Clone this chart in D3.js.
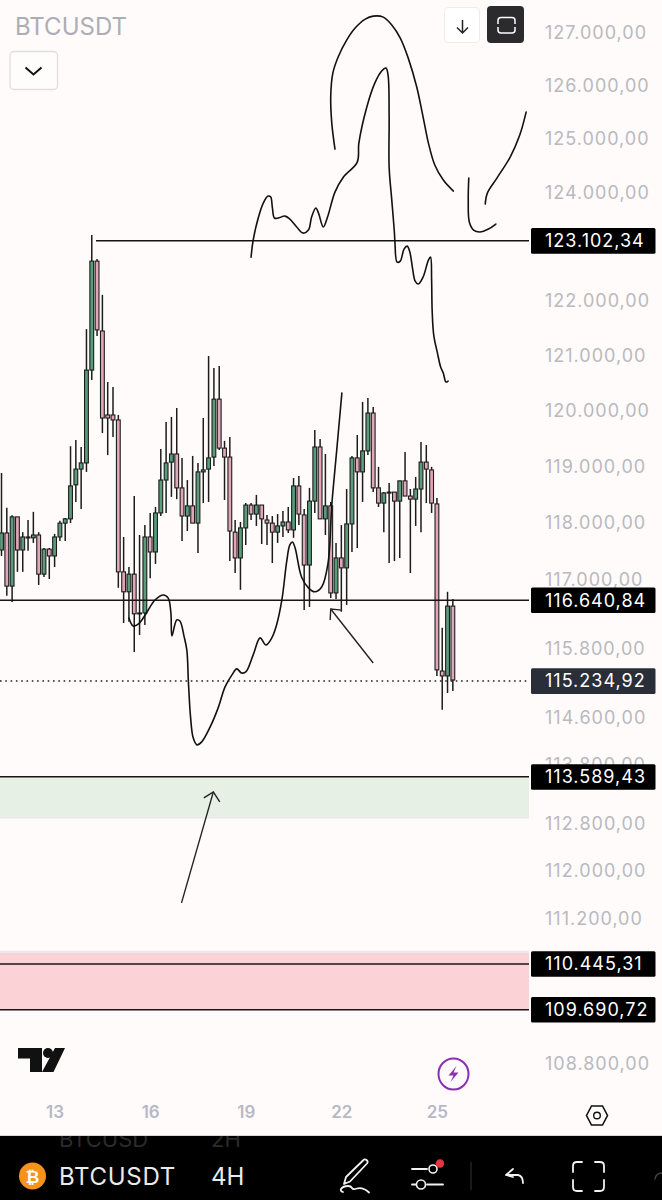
<!DOCTYPE html>
<html><head><meta charset="utf-8">
<style>html,body{margin:0;padding:0;background:#fffbfa}svg{display:block}
text{font-family:Inter,"Open Sans",sans-serif}</style>
<script src="https://cdn.jsdelivr.net/npm/d3@7/dist/d3.min.js"></script></head><body><svg id="c" width="662" height="1200"></svg>
<script>
const opens=[117505,117805,116870,118090,117505,117735,117720,117770,117080,117520,117400,117735,117980,118055,118660,118940,119050,120720,122710,121430,119910,119910,119820,117120,116770,117080,116385,116400,117735,117470,118160,118745,119065,119210,118605,118105,118285,117980,118890,118940,119155,120195,119315,119155,117820,117365,117895,118300,118140,118300,118035,117980,117820,117930,118000,117860,118640,118125,117240,118370,119335,118055,118285,116750,117365,117190,117965,119140,118890,119265,119945,118605,118335,118530,118530,118370,118730,118460,118405,118585,119065,118925,118320,115390,115305,116520];
const closes=[117805,116870,118090,117505,117735,117720,117770,117080,117520,117400,117735,117980,118055,118640,118940,119050,120720,122710,121450,119855,119855,119820,117120,116770,117080,116385,116400,117735,117470,118160,118745,119050,119210,118605,118105,118285,117980,118890,118925,119140,120195,119315,119155,117840,117365,117895,118300,118140,118300,118055,117980,117820,117930,118000,117860,118640,118140,117240,118370,119335,118055,118285,116750,117365,117190,117965,119140,118890,119265,119945,118605,118335,118515,118515,118370,118730,118460,118405,118585,119065,118940,118335,115410,115305,116520,115235];
const highs=[118870,118250,118120,118090,117820,118035,118180,117820,117540,117540,117790,118020,118070,119350,119460,119335,121465,123190,122750,122090,120505,120415,119910,117735,117205,118460,117770,117945,118160,118265,119300,119785,119875,120035,119140,118745,119175,119050,119855,120975,120760,120795,119445,119515,118035,118000,118335,118335,118480,118300,118125,118105,118140,118195,118265,118780,118815,118230,118605,119640,119480,119210,118355,117630,117945,118585,119175,119550,120145,120215,120055,118980,118530,118690,118530,118730,119245,118585,118800,119425,119370,118980,118425,116140,116770,116645];
const lows=[117400,116700,116590,117120,117120,117490,117630,116890,117030,116995,117205,117665,117665,117980,118355,118230,118890,120540,121340,119585,119190,119515,116840,116225,116245,115720,116015,116190,117010,117260,118105,118160,118445,118405,117665,117840,117980,117450,118335,118355,118995,119280,118390,117310,117100,116805,117595,118035,117930,117610,117595,117275,117630,117735,117805,117720,117945,116450,116505,118160,118055,117770,116660,116645,116420,116540,117470,117540,118355,119190,118530,118265,117820,117275,117310,117365,118460,117100,117930,117820,118335,118160,115305,114720,115010,115045];

const priceTicks=[127000,126000,125000,124000,122000,121000,120000,119000,118000,117000,115800,114600,113800,112800,112000,111200,108800];
const dayBars=[10,28,46,64,82];
const dayLabels=["13","16","19","22","25"];
const levels=[116640.84,113589.43,110445.31,109690.72];
const resistance=123102.34, resistanceStartBar=17.8, lastPrice=115234.92;
const greenZone=[113589.43,112909], redZone=[110630,109690.72];

const sketchDrop=[[47.0,122784],[47.4,123098],[48.4,123524],[49.3,123783],[50.2,123913],[50.7,123895],[51.0,123710],[51.4,123506],[52.1,123506],[53.4,123542],[54.3,123487],[55.6,123340],[56.8,123228],[57.8,123283],[58.4,123524],[59.2,123691],[59.7,123598],[60.6,123340],[61.4,123524],[62.8,123988],[64.4,124268],[67.0,124547],[67.3,124903],[68.8,125580],[70.3,126031],[71.6,126260],[72.4,126316],[72.8,126184],[73.0,125391],[73.0,124455],[73.5,123839],[74.0,123228],[74.1,123043],[74.5,122693],[75.1,122711],[75.8,122932],[76.4,122987],[76.9,122877],[77.4,122583],[77.9,122344],[78.5,122289],[79.4,122418],[80.4,122729],[80.8,122784],[81.0,122362],[81.1,121813],[81.4,121357],[82.1,121029],[82.7,120776],[83.2,120667],[83.7,120505],[84.1,120522]];
const sketchArch=[[62.8,124790],[62.2,125278],[62.0,125768],[62.4,126221],[63.4,126526],[65.0,126847],[66.6,127077],[68.5,127248],[70.0,127305],[71.9,127286],[73.5,127134],[75.1,126886],[76.6,126505],[78.2,125957],[79.4,125391],[80.4,124903],[81.6,124492],[83.2,124212],[85.1,124007]];
const sketchHook=[[88.0,124249],[87.9,123839],[88.1,123432],[88.9,123283],[90.1,123247],[91.7,123302],[93.1,123395]];
const sketchRise=[[91.1,123765],[91.5,123969],[93.3,124249],[95.8,124641],[97.6,125053],[98.8,125485]];
const sketchLow=[[24.0,116313],[24.8,116173],[25.8,116209],[27.3,116400],[28.9,116627],[30.5,116715],[31.4,116660],[31.9,116400],[32.1,115999],[33.0,116278],[33.6,116260],[34.4,115982],[34.9,115756],[35.2,115202],[35.6,114599],[36.1,114239],[36.8,114119],[37.7,114170],[39.3,114427],[40.8,114754],[42.1,115115],[43.4,115323],[44.3,115427],[45.2,115357],[46.0,115375],[47.4,115670],[48.7,115965],[49.8,115843],[50.9,115965],[51.8,116190],[52.8,116627],[53.7,117294],[54.3,117595],[54.8,117647],[55.3,117540],[56.5,117030],[57.8,116840],[59.0,116770],[60.3,116855],[61.5,117275],[62.2,118300],[63.1,119245],[64.1,120305]];
const arrowTop=[[70.0,115530],[62.0,116470]];
const arrowTopHead=[[61.9,116278],[62.0,116470],[64.1,116450]];
const arrowBottom=[[33.9,111445],[39.9,113317]];
const arrowBottomHead=[[38.1,113215],[39.9,113317],[41.1,113147]];
// candle and sketch prices were read about one pixel (17 units) low
const readingBias=17;
const adj=v=>v+readingBias;

const W=662,H=1200,PLOT_R=529;
const x=d3.scaleLinear().domain([0,100]).range([1.5,532.5]);
const y=d3.scaleLog().domain([127000,108800]).range([33,1064]);
const loc=d3.formatLocale({decimal:",",thousands:".",grouping:[3],currency:["",""]});
const fmt=loc.format(",.2f");
const svg=d3.select("#c");
svg.append("rect").attr("width",W).attr("height",H).attr("fill","#fffbfa");

// zones
svg.append("rect").attr("x",0).attr("width",PLOT_R).attr("y",y(greenZone[0])).attr("height",y(greenZone[1])-y(greenZone[0])).attr("fill","#e6f0e5");
svg.append("rect").attr("x",0).attr("width",PLOT_R).attr("y",y(greenZone[1])).attr("height",1.5).attr("fill","#e8e8e8");
svg.append("rect").attr("x",0).attr("width",PLOT_R).attr("y",y(redZone[0])).attr("height",y(redZone[1])-y(redZone[0])).attr("fill","#fbd2d5");
svg.append("rect").attr("x",0).attr("width",PLOT_R).attr("y",y(redZone[0])-2).attr("height",2).attr("fill","#e8e8e8");

// price axis
const LABEL_STYLE={size:"18px",ls:"1px"};
const axisR=d3.axisRight(y).tickValues(priceTicks).tickSize(0).tickPadding(0).tickFormat(fmt);
const gy=svg.append("g").attr("transform","translate(545,0)").call(axisR);
gy.select(".domain").remove();
gy.selectAll("text").attr("fill","#b9b9c0").style("font-size",LABEL_STYLE.size).style("letter-spacing",LABEL_STYLE.ls).style("font-family","Inter,sans-serif");

// time axis
const axisB=d3.axisBottom(x).tickValues(dayBars).tickSize(0).tickFormat((d,i)=>dayLabels[i]);
const gx=svg.append("g").attr("transform","translate(0,1103)").call(axisB);
gx.select(".domain").remove();
gx.selectAll("text").attr("fill","#b7b8c6").style("font-size","17px").style("font-weight","600").style("font-family","Inter,sans-serif");

// candles
const bars=d3.range(opens.length).map(i=>({i,o:adj(opens[i]),c:adj(closes[i]),h:adj(highs[i]),l:adj(lows[i])}));
const g=svg.append("g");
g.selectAll("line").data(bars).join("line")
 .attr("x1",d=>x(d.i)).attr("x2",d=>x(d.i)).attr("y1",d=>y(d.h)).attr("y2",d=>y(d.l))
 .attr("stroke","#1c1c1c").attr("stroke-width",1.5);
g.selectAll("rect").data(bars).join("rect")
 .attr("x",d=>x(d.i)-1.9).attr("width",3.8)
 .attr("y",d=>y(Math.max(d.o,d.c))).attr("height",d=>Math.max(1,Math.abs(y(d.o)-y(d.c))))
 .attr("fill",d=>d.c>=d.o?"#5b9c7b":"#e2a6ba").attr("stroke","#1c1c1c").attr("stroke-width",1.1);

// level lines
svg.append("line").attr("x1",x(resistanceStartBar)).attr("x2",PLOT_R).attr("y1",y(resistance)).attr("y2",y(resistance)).attr("stroke","#141414").attr("stroke-width",1.5);
levels.forEach(v=>svg.append("line").attr("x1",0).attr("x2",PLOT_R).attr("y1",y(v)).attr("y2",y(v)).attr("stroke","#1a1414").attr("stroke-width",1.5));
svg.append("line").attr("x1",0).attr("x2",PLOT_R).attr("y1",y(lastPrice)).attr("y2",y(lastPrice)).attr("stroke","#222").attr("stroke-width",1.4).attr("stroke-dasharray","1.6 3.7");

// tags
[resistance,...levels,lastPrice].forEach(v=>{
  svg.append("rect").attr("x",531).attr("width",124.5).attr("y",y(v)-12.7).attr("height",25.6).attr("rx",1.5).attr("fill",v===lastPrice?"#2a2e39":"#000");
  svg.append("text").attr("x",545).attr("y",y(v)+6.4).attr("fill","#fff").style("font-size",LABEL_STYLE.size).style("letter-spacing",LABEL_STYLE.ls).text(fmt(v));
});

// hand sketches
const line=d3.line().x(d=>x(d[0])).y(d=>y(adj(d[1]))).curve(d3.curveCatmullRom.alpha(0.5));
const straight=d3.line().x(d=>x(d[0])).y(d=>y(adj(d[1])));
[sketchDrop,sketchArch,sketchHook,sketchRise,sketchLow].forEach(s=>svg.append("path").attr("d",line(s)).attr("fill","none").attr("stroke","#111").attr("stroke-width",1.6).attr("stroke-linecap","round"));
[arrowTop,arrowTopHead,arrowBottom,arrowBottomHead].forEach(s=>svg.append("path").attr("d",straight(s)).attr("fill","none").attr("stroke","#222").attr("stroke-width",1.4));

// header chrome
svg.append("text").attr("x",15).attr("y",35).attr("fill","#adadb5").style("font-size","24px").text("BTCUSDT");
svg.append("rect").attr("x",10).attr("y",51.5).attr("width",47.5).attr("height",38).attr("rx",4).attr("fill","#fffdfc").attr("stroke","#e0dddc").attr("stroke-width",1.3);
svg.append("path").attr("d","M25.5 67.5l8 7 8-7").attr("fill","none").attr("stroke","#111").attr("stroke-width",2);
svg.append("rect").attr("x",444.5).attr("y",7.5).attr("width",35).attr("height",35).attr("rx",3.5).attr("fill","#fff").attr("stroke","#efecec");
svg.append("path").attr("d","M462.5 20v12.5M457 27.5l5.5 5.5 5.5-5.5").attr("fill","none").attr("stroke","#222").attr("stroke-width",1.5);
svg.append("rect").attr("x",487).attr("y",6).attr("width",37).attr("height",37).attr("rx",4).attr("fill","#2b2b2e");
svg.append("path").attr("d","M498 24v-3.5q0-3 3-3h11q3 0 3 3V24M498 27v3q0 3 3 3h11q3 0 3-3v-3").attr("fill","none").attr("stroke","#fff").attr("stroke-width",1.5);

// logo and small icons
svg.append("path").attr("d","M18 1048h24v24h-12v-13.5H18zM55 1048h10l-11.5 24H42z").attr("fill","#111");
svg.append("circle").attr("cx",48).attr("cy",1053).attr("r",5).attr("fill","#111");
svg.append("ellipse").attr("cx",453.5).attr("cy",1074).attr("rx",15).attr("ry",15.5).attr("fill","none").attr("stroke","#8b2fb0").attr("stroke-width",2);
svg.append("path").attr("d","M456.5 1066l-8 9.5h5l-3 6.5 8-9.5h-5z").attr("fill","#8b2fb0");
svg.append("path").attr("d","M586.5 1115.5l5-9.5h11l5 9.5-5 9.5h-11z").attr("fill","none").attr("stroke","#111").attr("stroke-width",1.6);
svg.append("circle").attr("cx",597).attr("cy",1115.5).attr("r",3.3).attr("fill","none").attr("stroke","#111").attr("stroke-width",1.4);

// bottom bar
svg.append("rect").attr("x",0).attr("y",1136).attr("width",W).attr("height",64).attr("fill","#000");
svg.append("rect").attr("x",0).attr("y",1135).attr("width",W).attr("height",1).attr("fill","#d8d8d8");
svg.append("defs").append("clipPath").attr("id","barclip").append("rect").attr("x",0).attr("y",1136).attr("width",W).attr("height",14);
svg.append("text").attr("x",59).attr("y",1147).attr("fill","#2b2b2b").attr("clip-path","url(#barclip)").style("font-size","22px").text("BTCUSD");
svg.append("text").attr("x",211).attr("y",1147).attr("fill","#2b2b2b").attr("clip-path","url(#barclip)").style("font-size","22px").text("2H");
svg.append("circle").attr("cx",32.5).attr("cy",1176).attr("r",13.5).attr("fill","#f7931a");
svg.append("text").attr("x",32.5).attr("y",1182.5).attr("text-anchor","middle").attr("fill","#fff").style("font-size","17px").style("font-weight","700").style("font-family","'DejaVu Sans',sans-serif").text("₿");
svg.append("text").attr("x",59).attr("y",1185).attr("fill","#eaeaea").style("font-size","24px").style("letter-spacing","0.7px").text("BTCUSDT");
svg.append("text").attr("x",211).attr("y",1185).attr("fill","#eaeaea").style("font-size","24px").text("4H");
const ic=(d,w=1.8)=>svg.append("path").attr("d",d).attr("fill","none").attr("stroke","#f2f2f2").attr("stroke-width",w).attr("stroke-linecap","round").attr("stroke-linejoin","round");
ic("M346 1177l-2 7 6-2.5 17-18q1.5-2-.5-3.5t-3.5 .5zM343 1192q-3-1-2-3 2-3 7-3 3 0 4 2t5 .5q6-1.5 12 4");
ic("M412 1169h15");
svg.append("circle").attr("cx",433).attr("cy",1169).attr("r",4).attr("fill","none").attr("stroke","#f2f2f2").attr("stroke-width",1.6);
ic("M412 1184.5h4M427 1184.5h16");
svg.append("circle").attr("cx",421).attr("cy",1184.5).attr("r",4.5).attr("fill","none").attr("stroke","#f2f2f2").attr("stroke-width",1.6);
svg.append("circle").attr("cx",440).attr("cy",1163.5).attr("r",4.2).attr("fill","#e8343f");
svg.append("line").attr("x1",471).attr("x2",471).attr("y1",1162).attr("y2",1190).attr("stroke","#333").attr("stroke-width",1);
ic("M513 1169l-7 6 7 2M506 1175h12q5 1 5 8");
ic("M573 1172v-6q0-4 4-4h5M595 1162h5q4 0 4 4v6M604 1180v7q0 4-4 4h-5M582 1191h-5q-4 0-4-4v-7");
ic("M662 1173q-6 0-7 6",1.5).attr("stroke","#444");
</script></body></html>
